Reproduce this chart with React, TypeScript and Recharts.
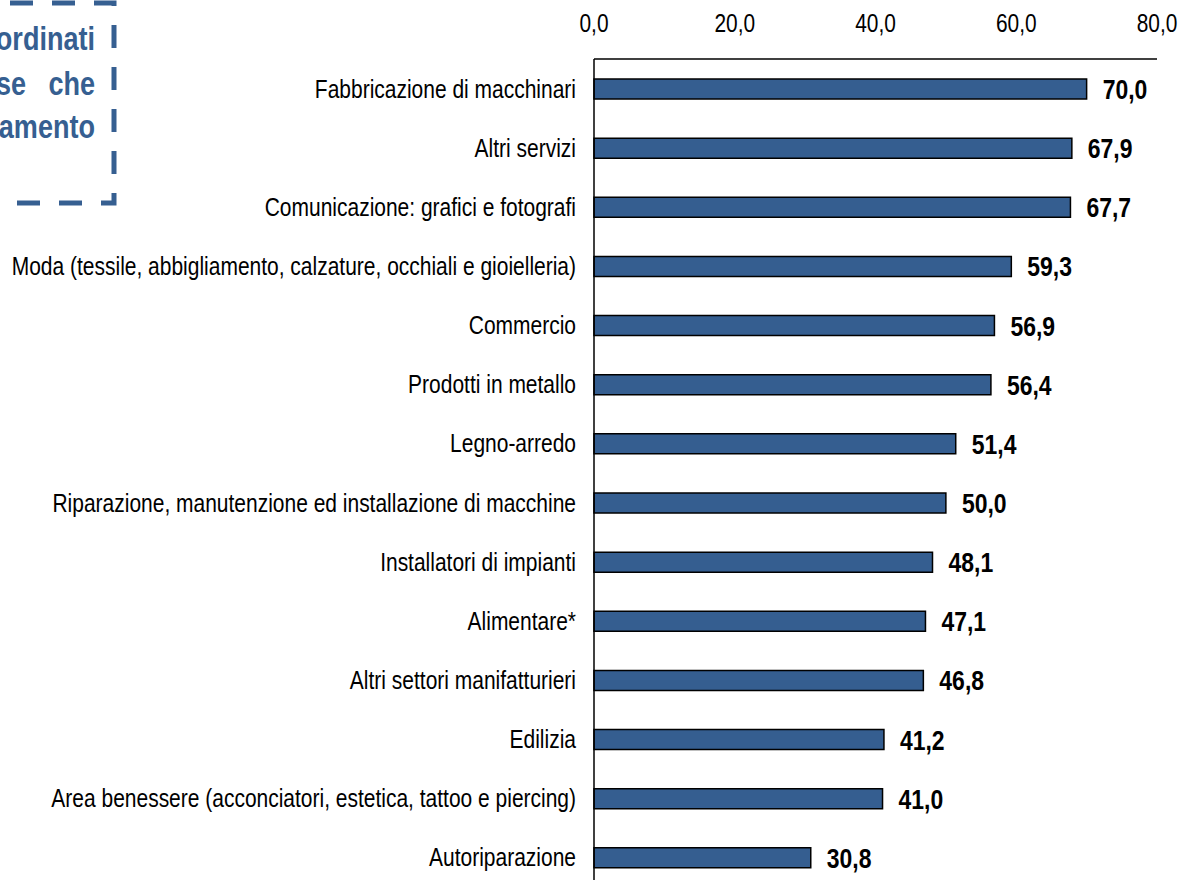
import { BarChart, Bar, XAxis, YAxis, LabelList } from "recharts"

const sectors = [
  "Fabbricazione di macchinari",
  "Altri servizi",
  "Comunicazione: grafici e fotografi",
  "Moda (tessile, abbigliamento, calzature, occhiali e gioielleria)",
  "Commercio",
  "Prodotti in metallo",
  "Legno-arredo",
  "Riparazione, manutenzione ed installazione di macchine",
  "Installatori di impianti",
  "Alimentare*",
  "Altri settori manifatturieri",
  "Edilizia",
  "Area benessere (acconciatori, estetica, tattoo e piercing)",
  "Autoriparazione"
]

const shares = [70.0, 67.9, 67.7, 59.3, 56.9, 56.4, 51.4, 50.0, 48.1, 47.1, 46.8, 41.2, 41.0, 30.8]

const xTicks = [0, 20, 40, 60, 80]

const data = sectors.map((name, i) => ({ name, value: shares[i] }))

// no Arial Narrow here: squeeze Liberation Sans horizontally instead
const FONT = "'Liberation Sans', Arial, sans-serif"
const SQUEEZE = 0.82
const fmt = (v: number) => v.toFixed(1).replace(".", ",")

const Narrow = ({ x, y, anchor, size, bold, fill, children }: any) => (
  <g transform={`translate(${x},${y}) scale(${SQUEEZE},1)`}>
    <text x={0} y={0} textAnchor={anchor} fontFamily={FONT} fontSize={size} fontWeight={bold ? 700 : 400} fill={fill || "#000"}>
      {children}
    </text>
  </g>
)

const TopTick = (props: any) => (
  <Narrow x={props.x} y={32} anchor="middle" size={25.5}>{fmt(props.payload.value)}</Narrow>
)

const SectorTick = (props: any) => (
  <Narrow x={576} y={props.y + 9} anchor="end" size={25.6}>{props.payload.value}</Narrow>
)

const ValueLabel = (props: any) => {
  const { x, y, width, height, value } = props
  return (
    <Narrow x={x + width + 16} y={y + height / 2 + 10} anchor="start" size={28} bold>{fmt(Number(value))}</Narrow>
  )
}

export default function App() {
  return (
    <div style={{ position: "fixed", left: 0, top: 0, width: 1182, height: 880, overflow: "hidden", background: "#fff" }}>
      <BarChart
        width={1182}
        height={887}
        data={data}
        layout="vertical"
        margin={{ top: 0, right: 25, left: 0, bottom: 0 }}
        barSize={20}
      >
        <XAxis
          type="number"
          orientation="top"
          domain={[0, 80]}
          ticks={xTicks}
          height={59}
          tickLine={false}
          axisLine={{ stroke: "#000", strokeWidth: 1.5 }}
          tick={<TopTick />}
        />
        <YAxis
          type="category"
          dataKey="name"
          width={594}
          tickLine={false}
          axisLine={{ stroke: "#000", strokeWidth: 1.5 }}
          tick={<SectorTick />}
          interval={0}
        />
        <Bar dataKey="value" fill="#355e90" stroke="#000" strokeWidth={1.5} isAnimationActive={false}>
          <LabelList dataKey="value" content={<ValueLabel />} />
        </Bar>
      </BarChart>

      <svg width={130} height={210} style={{ position: "absolute", left: 0, top: 0 }}>
        <rect x={-200} y={3} width={314} height={200} fill="none" stroke="#365f91" strokeWidth={5} strokeDasharray="23 19" />
        <Narrow x={95} y={50} anchor="end" size={33} bold fill="#365f91">ordinati</Narrow>
        <Narrow x={26} y={95} anchor="end" size={33} bold fill="#365f91">se</Narrow>
        <Narrow x={95} y={95} anchor="end" size={33} bold fill="#365f91">che</Narrow>
        <Narrow x={95} y={138} anchor="end" size={33} bold fill="#365f91">amento</Narrow>
      </svg>
    </div>
  )
}
